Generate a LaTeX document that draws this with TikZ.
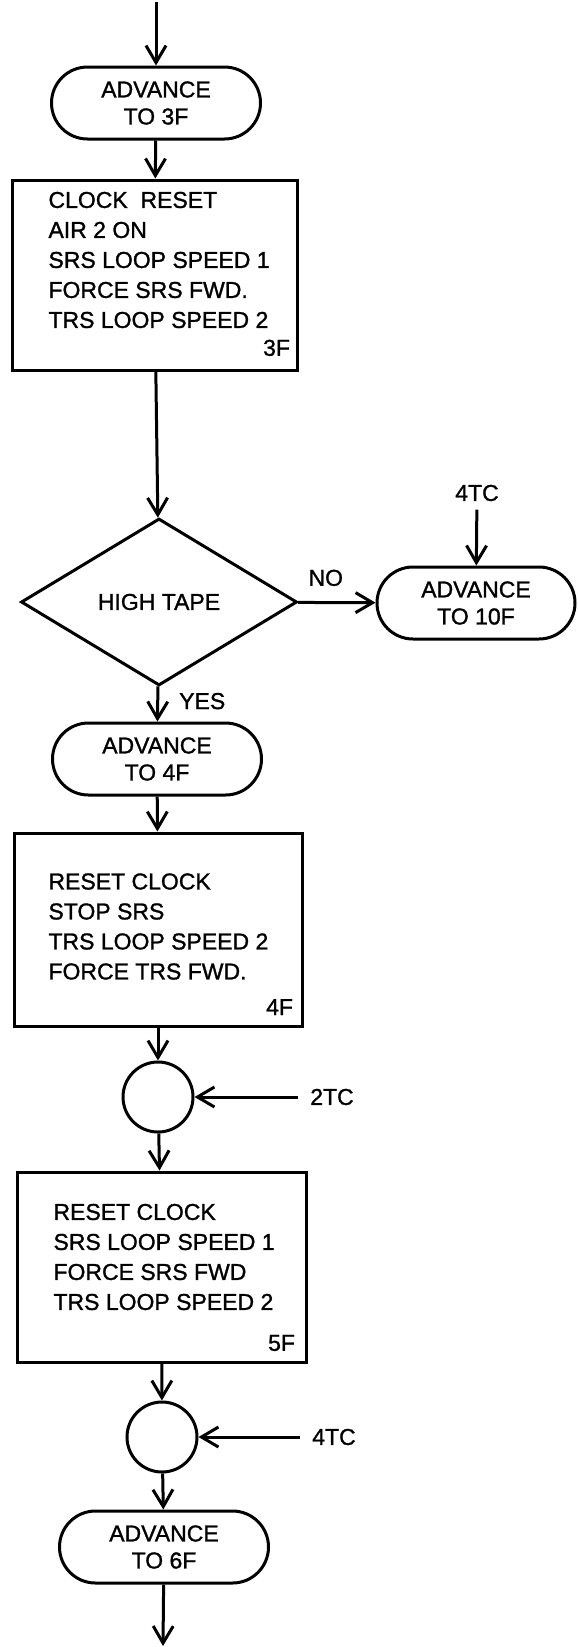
\documentclass[tikz,border=0pt]{standalone}
\usepackage{fontspec}
\setmainfont{Liberation Sans}[BoldFont=Liberation Sans, BoldFeatures={FakeBold=1.2}]
\usetikzlibrary{arrows.meta, shapes.geometric, shapes.misc, positioning}

\begin{document}
\begin{tikzpicture}[x=1pt, y=-1pt, line width=3pt, >={Straight Barb[length=17pt, width=20pt]},
    txt/.style={font=\fontsize{23}{30}\selectfont\bfseries, inner sep=0pt},
    tag/.style={txt, inner xsep=11pt, inner ysep=7pt},
    term/.style={draw, rounded rectangle, minimum width=209pt, minimum height=72pt, align=center, inner sep=0pt, font=\fontsize{23}{27}\selectfont\bfseries},
    stepbox/.style={draw, rectangle, inner sep=0pt},
    lines/.style={txt, align=left, anchor=west},
    dec/.style={draw, diamond, minimum width=276pt, minimum height=167pt, inner sep=0pt, font=\fontsize{23}{30}\selectfont\bfseries},
    conn/.style={draw, circle, minimum size=70pt, inner sep=0pt}]
    \useasboundingbox (0,0) rectangle (578,1647);
            % column
            \coordinate (top) at (156,2); \coordinate (bot) at (163,1646);
            \node[term] (t3) at (156,103) {ADVANCE\\TO 3F};
            \node[stepbox, minimum width=285pt, minimum height=190pt] (b3) at (154.5,275) {};
            \node[lines] (b3t) at (47,260) {CLOCK \ RESET\\AIR 2 ON\\SRS LOOP SPEED 1\\FORCE SRS FWD.\\TRS LOOP SPEED 2};
            \node[txt, above left=14pt and 7pt of b3.south east] (n3) {3F};
            \node[dec] (d) at (159,602) {HIGH TAPE};
            \node[term, minimum width=198pt] (t10) at (476,603) {ADVANCE\\TO 10F};
            \node[tag] (tc4a) at (477,493) {4TC};
            \node[term] (t4) at (157,759) {ADVANCE\\TO 4F};
            \node[stepbox, minimum width=288pt, minimum height=193pt] (b4) at (158,929.5) {};
            \node[lines] (b4t) at (47,926.5) {RESET CLOCK\\STOP SRS\\TRS LOOP SPEED 2\\FORCE TRS FWD.};
            \node[txt, above left=11pt and 9pt of b4.south east] (n4) {4F};
            \node[conn] (c1) at (158,1097) {}; \node[tag] (tc2) at (332,1097) {2TC};
            \node[stepbox, minimum width=289pt, minimum height=190pt] (b5) at (161.5,1267) {};
            \node[lines] (b5t) at (52,1257) {RESET CLOCK\\SRS LOOP SPEED 1\\FORCE SRS FWD\\TRS LOOP SPEED 2};
            \node[txt, above left=11pt and 11pt of b5.south east] (n5) {5F};
            \node[conn] (c2) at (162,1437) {}; \node[tag] (tc4b) at (334,1437) {4TC};
            \node[term] (t6) at (164,1547) {ADVANCE\\TO 6F};
            % arrows
            \draw[->] (top) -- (t3);
            \draw[->] (t3) -- (b3);
            \draw[->] (b3) -- (d);
            \draw[->] (d) -- node[txt, pos=.36, above=15pt] (no) {NO} (t10);
            \draw[->] (tc4a) -- (t10);
            \draw[->] (d) -- node[txt, pos=.42, right=20pt] (yes) {YES} (t4);
            \draw[->] (t4) -- (b4);
            \draw[->] (b4) -- (c1);
            \draw[->] (tc2) -- (c1);
            \draw[->] (c1) -- (b5);
            \draw[->] (b5) -- (c2);
            \draw[->] (tc4b) -- (c2);
            \draw[->] (c2) -- (t6);
            \draw[->] (t6) -- (bot);
        \end{tikzpicture}
\end{document}
